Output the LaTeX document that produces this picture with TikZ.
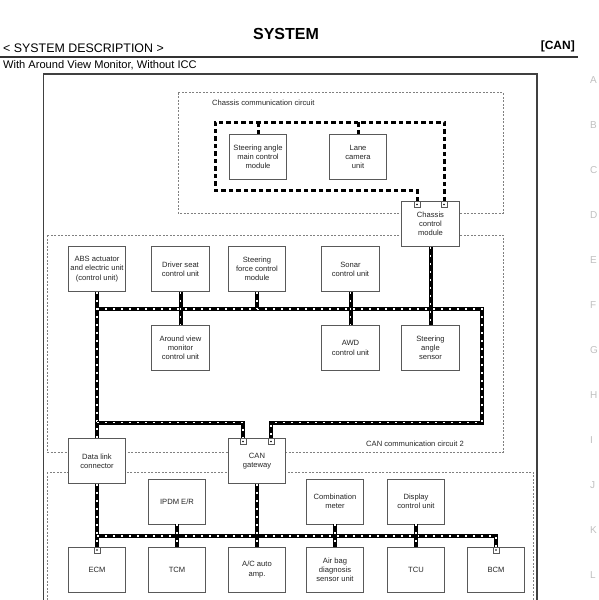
\documentclass[tikz,border=0pt]{standalone}
\usepackage{fontspec}
\setmainfont{Liberation Sans}
\begin{document}
\begin{tikzpicture}[x=1pt,y=-1pt,
 box/.style={draw=black!65, line width=0.7pt, fill=white, minimum width=57.5pt, minimum height=45pt, inner sep=1pt, align=center, font=\fontsize{7.6}{9.2}\selectfont, text=black!85},
 region/.style={draw=black!50, line width=0.6pt, dash pattern=on 2pt off 1.5pt},
 chbus/.style={draw=black, line width=3pt, dash pattern=on 4.5pt off 3pt},
 canbus/.style={draw=black, line width=4pt, postaction={draw=white, line width=1.3pt, dash pattern=on 2pt off 6pt}},
 port/.style={draw=black!65, fill=white, line width=0.6pt, minimum size=6pt, inner sep=0pt, anchor=north, path picture={\fill[black] (path picture bounding box.center) circle (0.9pt);}},
 sideletter/.style={text=black!25, font=\fontsize{10}{12}\selectfont, anchor=west, inner sep=0pt},
 lbl/.style={font=\fontsize{7.6}{9.2}\selectfont, text=black!85, inner sep=0pt}
]
\useasboundingbox (0,0) rectangle (598,600);

% header
\node[font=\bfseries\fontsize{16}{18}\selectfont, inner sep=0pt] (title) at (286,33.5) {SYSTEM};
\node[anchor=west, inner sep=0pt, font=\fontsize{12.4}{14}\selectfont] (sec) at (3,48) {< SYSTEM DESCRIPTION >};
\node[anchor=east, inner sep=0pt, font=\bfseries\fontsize{12}{14}\selectfont] (can) at (575,46) {[CAN]};
\draw[line width=1.4pt, black!80] (0,57) -- (578,57);
\node[anchor=west, inner sep=0pt, font=\fontsize{11.1}{13}\selectfont] (variant) at (3,65.5) {With Around View Monitor, Without ICC};

\foreach \l [count=\i from 0] in {A,B,C,D,E,F,G,H,I,J,K,L}
  \node[sideletter] (side\l) at (590,80+45*\i) {\l};

% outer frame and regions
\draw[line width=1.3pt, black!75] (43.5,74) rectangle (537,620);
\draw[region] (178,92.5) rectangle (503,213);
\draw[region] (47,235) rectangle (503,452);
\draw[region] (47,472) rectangle (533,620);

\node[lbl, anchor=west] (chlbl) at (212,103) {Chassis communication circuit};
\node[lbl] (canlbl) at (415,444) {CAN communication circuit 2};

% boxes
\node[box] (sam) at (258,157) {Steering angle\\main control\\module};
\node[box] (lane) at (358,157) {Lane\\camera\\unit};
\node[box] (cm) at (430.5,224) {Chassis\\control\\module};
\node[box] (abs) at (97,269) {ABS actuator\\and electric unit\\(control unit)};
\node[box] (ds) at (180.5,269) {Driver seat\\control unit};
\node[box] (sf) at (257,269) {Steering\\force control\\module};
\node[box] (sonar) at (350.5,269) {Sonar\\control unit};
\node[box] (av) at (180.5,348) {Around view\\monitor\\control unit};
\node[box] (awd) at (350.5,348) {AWD\\control unit};
\node[box] (sas) at (430.5,348) {Steering\\angle\\sensor};
\node[box] (dlc) at (97,461) {Data link\\connector};
\node[box] (gw) at (257,461) {CAN\\gateway};
\node[box] (ipdm) at (177,501.5) {IPDM E/R};
\node[box] (comb) at (335,501.5) {Combination\\meter};
\node[box] (disp) at (416,501.5) {Display\\control unit};
\node[box] (ecm) at (97,569.5) {ECM};
\node[box] (tcm) at (177,569.5) {TCM};
\node[box] (ac) at (257,569.5) {A/C auto\\amp.};
\node[box] (airbag) at (335,569.5) {Air bag\\diagnosis\\sensor unit};
\node[box] (tcu) at (416,569.5) {TCU};
\node[box] (bcm) at (496,569.5) {BCM};

% ports
\node[port] (cmp1) at ([xshift=-13.5pt]cm.north) {};
\node[port] (cmp2) at ([xshift=13.5pt]cm.north) {};
\node[port] (gwp1) at ([xshift=-14pt]gw.north) {};
\node[port] (gwp2) at ([xshift=14pt]gw.north) {};
\node[port] (ecmp) at (ecm.north) {};
\node[port] (bcmp) at (bcm.north) {};

% chassis communication bus
\coordinate (chBL) at (215,190);
\coordinate (chTR) at (444,122);
\draw[chbus] (cmp1.north) |- (chBL) |- (chTR) -- (cmp2.north);
\draw[chbus] (sam.north) -- (sam.north |- chTR);
\draw[chbus] (lane.north) -- (lane.north |- chTR);

% CAN communication circuit 2
\coordinate (tl) at (97,309);
\coordinate (tr) at (482,309);
\coordinate (br) at (482,422.5);
\coordinate (bl) at (97,422.5);
\draw[canbus] (abs.south) -- (dlc.north);
\draw[canbus] (tl) -- (tr) -- (br) -| (gwp2.north);
\draw[canbus] (bl) -| (gwp1.north);
\draw[canbus] (ds.south) -- (av.north);
\draw[canbus] (sf.south) -- (sf.south |- tl);
\draw[canbus] (sonar.south) -- (awd.north);
\draw[canbus] (cm.south) -- (sas.north);

% lower CAN bus
\coordinate (bbl) at (97,536);
\coordinate (bbr) at (496,536);
\draw[canbus] (dlc.south) -- (ecmp.north);
\draw[canbus] (bbl) -- (bbr) -- (bcmp.north);
\draw[canbus] (ipdm.south) -- (tcm.north);
\draw[canbus] (gw.south) -- (ac.north);
\draw[canbus] (comb.south) -- (airbag.north);
\draw[canbus] (disp.south) -- (tcu.north);
\end{tikzpicture}
\end{document}
